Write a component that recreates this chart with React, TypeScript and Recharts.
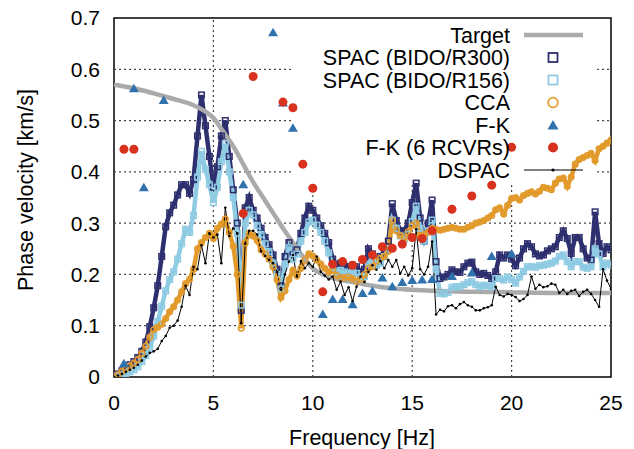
import {
  ComposedChart,
  Line,
  ReferenceArea,
  ReferenceLine,
  Scatter,
  XAxis,
  YAxis,
} from "recharts";

// sampling grid (Hz) shared by the dense curves
const FREQ = [
  0, 0.2, 0.4, 0.6, 0.8, 1, 1.2, 1.4, 1.6, 1.8,
  2, 2.2, 2.4, 2.6, 2.8, 3, 3.2, 3.4, 3.6, 3.8,
  4, 4.2, 4.4, 4.6, 4.8, 5, 5.2, 5.4, 5.6, 5.8,
  6, 6.2, 6.4, 6.6, 6.8, 7, 7.2, 7.4, 7.6, 7.8,
  8, 8.2, 8.4, 8.6, 8.8, 9, 9.2, 9.4, 9.6, 9.8,
  10, 10.2, 10.4, 10.6, 10.8, 11, 11.2, 11.4, 11.6, 11.8,
  12, 12.2, 12.4, 12.6, 12.8, 13, 13.2, 13.4, 13.6, 13.8,
  14, 14.2, 14.4, 14.6, 14.8, 15, 15.2, 15.4, 15.6, 15.8,
  16, 16.2, 16.4, 16.6, 16.8, 17, 17.2, 17.4, 17.6, 17.8,
  18, 18.2, 18.4, 18.6, 18.8, 19, 19.2, 19.4, 19.6, 19.8,
  20, 20.2, 20.4, 20.6, 20.8, 21, 21.2, 21.4, 21.6, 21.8,
  22, 22.2, 22.4, 22.6, 22.8, 23, 23.2, 23.4, 23.6, 23.8,
  24, 24.2, 24.4, 24.6, 24.8, 25,
];

const SPAC_R300 = [
  0.003, 0.006, 0.012, 0.017, 0.024, 0.03, 0.038, 0.05, 0.068, 0.098,
  0.135, 0.178, 0.235, 0.293, 0.32, 0.335, 0.355, 0.375, 0.375, 0.358,
  0.385, 0.47, 0.55, 0.49, 0.43, 0.37, 0.41, 0.47, 0.5, 0.43,
  0.365, 0.3, 0.13, 0.33, 0.35, 0.325, 0.31, 0.29, 0.272, 0.258,
  0.238, 0.21, 0.178, 0.235, 0.262, 0.24, 0.248, 0.28, 0.31, 0.333,
  0.325, 0.31, 0.295, 0.28, 0.262, 0.23, 0.218, 0.222, 0.216, 0.215,
  0.218, 0.215, 0.205, 0.21, 0.25, 0.24, 0.228, 0.235, 0.245, 0.265,
  0.338, 0.305, 0.285, 0.285, 0.3, 0.34, 0.378, 0.31, 0.265, 0.3,
  0.345, 0.225, 0.192, 0.195, 0.2, 0.209, 0.205, 0.204, 0.215, 0.222,
  0.224, 0.205, 0.2, 0.202, 0.198, 0.192, 0.205, 0.238, 0.232, 0.238,
  0.23, 0.217, 0.232, 0.25, 0.26, 0.254, 0.24, 0.236, 0.238, 0.246,
  0.25, 0.254, 0.272, 0.285, 0.27, 0.241, 0.272, 0.272, 0.25, 0.232,
  0.228, 0.322, 0.26, 0.241, 0.254, 0.248,
];

const SPAC_R156 = [
  0, 0.002, 0.004, 0.007, 0.01, 0.014, 0.02, 0.03, 0.042, 0.058,
  0.08, 0.108, 0.138, 0.168, 0.19, 0.205, 0.23, 0.26, 0.288, 0.282,
  0.315, 0.39, 0.44, 0.405, 0.375, 0.34, 0.37, 0.42, 0.455, 0.4,
  0.35, 0.28, 0.14, 0.3, 0.325, 0.316, 0.295, 0.278, 0.26, 0.245,
  0.222, 0.2, 0.172, 0.22, 0.252, 0.23, 0.24, 0.265, 0.282, 0.302,
  0.306, 0.296, 0.282, 0.265, 0.242, 0.215, 0.205, 0.208, 0.205, 0.202,
  0.205, 0.202, 0.195, 0.196, 0.22, 0.23, 0.218, 0.222, 0.235, 0.25,
  0.306, 0.29, 0.275, 0.268, 0.278, 0.303, 0.333, 0.29, 0.265, 0.285,
  0.306, 0.21, 0.163, 0.162, 0.165, 0.175, 0.176, 0.176, 0.18, 0.184,
  0.186, 0.18, 0.176, 0.179, 0.178, 0.176, 0.192, 0.192, 0.189, 0.195,
  0.19, 0.183, 0.195, 0.206, 0.215, 0.215, 0.214, 0.217, 0.218, 0.22,
  0.222, 0.226, 0.235, 0.238, 0.225, 0.215, 0.225, 0.225, 0.214, 0.212,
  0.215, 0.25, 0.24, 0.215, 0.222, 0.218,
];

const CCA = [
  0, 0.005, 0.011, 0.016, 0.022, 0.027, 0.034, 0.046, 0.06, 0.078,
  0.092, 0.097, 0.103, 0.114, 0.127, 0.137, 0.15, 0.166, 0.182, 0.19,
  0.21, 0.25, 0.262, 0.272, 0.28, 0.27, 0.29, 0.298, 0.308, 0.282,
  0.255, 0.2, 0.095, 0.262, 0.28, 0.275, 0.266, 0.248, 0.24, 0.23,
  0.215, 0.19, 0.155, 0.168, 0.19, 0.208, 0.197, 0.212, 0.228, 0.24,
  0.236, 0.228, 0.22, 0.212, 0.205, 0.208, 0.198, 0.193, 0.194, 0.195,
  0.192, 0.187, 0.19, 0.2, 0.212, 0.215, 0.226, 0.232, 0.235, 0.245,
  0.305, 0.285, 0.276, 0.27, 0.283, 0.295, 0.3, 0.276, 0.278, 0.282,
  0.29, 0.288, 0.286, 0.288, 0.29, 0.292, 0.29, 0.288, 0.288, 0.292,
  0.295, 0.3, 0.302, 0.305, 0.31, 0.315, 0.326, 0.33, 0.318, 0.335,
  0.348, 0.35, 0.345, 0.354, 0.358, 0.361, 0.357, 0.362, 0.37, 0.368,
  0.365, 0.378, 0.386, 0.388, 0.372, 0.39, 0.415, 0.424, 0.428, 0.432,
  0.436, 0.422, 0.445, 0.45, 0.456, 0.462,
];

const DSPAC = [
  0, 0.003, 0.006, 0.01, 0.014, 0.018, 0.024, 0.032, 0.04, 0.047,
  0.05, 0.055, 0.07, 0.08, 0.096, 0.1, 0.11, 0.137, 0.178, 0.16,
  0.215, 0.21, 0.257, 0.222, 0.28, 0.272, 0.278, 0.222, 0.33, 0.275,
  0.29, 0.28, 0.105, 0.26, 0.285, 0.285, 0.278, 0.245, 0.236, 0.228,
  0.222, 0.205, 0.17, 0.2, 0.225, 0.238, 0.196, 0.226, 0.212, 0.222,
  0.215, 0.235, 0.205, 0.198, 0.19, 0.196, 0.17, 0.186, 0.16, 0.175,
  0.148, 0.176, 0.196, 0.185, 0.205, 0.218, 0.209, 0.226, 0.212, 0.228,
  0.215, 0.228, 0.202, 0.215, 0.198, 0.212, 0.288, 0.21, 0.2, 0.215,
  0.264, 0.122, 0.131, 0.128, 0.138, 0.14, 0.134, 0.142, 0.146, 0.14,
  0.137, 0.13, 0.13, 0.134, 0.136, 0.14, 0.176, 0.16, 0.157, 0.162,
  0.16, 0.156, 0.148, 0.152, 0.16, 0.196, 0.172, 0.18, 0.175, 0.177,
  0.182, 0.18, 0.164, 0.17, 0.162, 0.168, 0.17, 0.158, 0.166, 0.17,
  0.162, 0.15, 0.137, 0.21, 0.188, 0.172,
];

const TARGET_F = [0, 1, 2, 3, 4, 4.5, 5, 5.5, 6, 6.5, 7, 7.5, 8, 8.5, 9, 9.5, 10, 10.5, 11, 12, 13, 14, 15, 16, 18, 20, 22, 25];
const TARGET_V = [0.57, 0.563, 0.553, 0.542, 0.53, 0.52, 0.505, 0.478, 0.45, 0.415, 0.38, 0.35, 0.32, 0.29, 0.262, 0.235, 0.212, 0.2, 0.193, 0.185, 0.178, 0.173, 0.17, 0.168, 0.166, 0.165, 0.164, 0.164];

const FK_F = [0.5, 1, 1.5, 2.5, 6.5, 8, 8.5, 9, 10.5, 11, 11.5, 12, 12.5, 13, 13.5, 14, 14.5, 15, 15.5, 16, 17, 18, 19, 20];
const FK_V = [0.027, 0.563, 0.37, 0.54, 0.376, 0.672, 0.535, 0.486, 0.123, 0.152, 0.152, 0.142, 0.164, 0.168, 0.194, 0.177, 0.185, 0.189, 0.19, 0.191, 0.197, 0.204, 0.236, 0.241];

const FK6_F = [0.5, 1, 6.5, 7, 8.5, 9, 9.5, 10, 10.5, 11, 11.5, 12, 12.5, 13, 13.5, 14, 14.5, 15, 15.5, 16, 17, 18, 19, 20];
const FK6_V = [0.444, 0.444, 0.319, 0.586, 0.536, 0.525, 0.415, 0.368, 0.166, 0.22, 0.225, 0.218, 0.229, 0.238, 0.254, 0.251, 0.259, 0.272, 0.27, 0.285, 0.327, 0.353, 0.374, 0.448];

const X_TICKS = [0, 5, 10, 15, 20, 25];
const Y_TICKS = [0, 0.1, 0.2, 0.3, 0.4, 0.5, 0.6, 0.7];

// key box (in data units) where the grid is left out
const KEY_X = [9, 24.3];
const KEY_Y = 0.378;

const C_R300 = "#2e2f6e";
const C_R156 = "#8fcbe3";
const C_CCA = "#e29a2c";
const C_FK = "#2f72ad";
const C_FK6 = "#d8321e";
const C_TARGET = "#aaaaaa";
const C_GRID = "#444";
const FONT = "'Liberation Sans', Arial, Helvetica, sans-serif";

const rows = (fs: number[], vs: number[]) => fs.map((f, i) => ({ f, v: vs[i] }));

// grid pieces, skipping the key box
const gridSegments = () => {
  const segs: { x: number; y: number }[][] = [];
  X_TICKS.slice(1, -1).forEach((t) => {
    if (t > KEY_X[0] && t < KEY_X[1]) segs.push([{ x: t, y: 0 }, { x: t, y: KEY_Y }]);
    else segs.push([{ x: t, y: 0 }, { x: t, y: 0.7 }]);
  });
  Y_TICKS.slice(1, -1).forEach((t) => {
    if (t > KEY_Y) {
      segs.push([{ x: 0, y: t }, { x: KEY_X[0], y: t }]);
      segs.push([{ x: KEY_X[1], y: t }, { x: 25, y: t }]);
    } else segs.push([{ x: 0, y: t }, { x: 25, y: t }]);
  });
  return segs;
};

const squareDot = (color: string) => (p: any) => {
  if (p.cx == null || p.cy == null) return <g key={p.index} />;
  return (
    <rect key={p.index} x={p.cx - 2.8} y={p.cy - 2.8} width={5.6} height={5.6}
      fill="none" stroke={color} strokeWidth={1.5} />
  );
};

const circleDot = (color: string) => (p: any) => {
  if (p.cx == null || p.cy == null) return <g key={p.index} />;
  return <circle key={p.index} cx={p.cx} cy={p.cy} r={2.8} fill="none" stroke={color} strokeWidth={1.5} />;
};

const tinyDot = (p: any) => {
  if (p.cx == null || p.cy == null) return <g key={p.index} />;
  return <circle key={p.index} cx={p.cx} cy={p.cy} r={1.3} fill="#000" />;
};

const triangle = (p: any) => (
  <polygon
    points={`${p.cx},${p.cy - 4.5} ${p.cx + 5},${p.cy + 4} ${p.cx - 5},${p.cy + 4}`}
    fill={C_FK}
  />
);

const redDot = (p: any) => <circle cx={p.cx} cy={p.cy} r={4.5} fill={C_FK6} />;

const LEGEND = [
  { label: "Target", kind: "target" },
  { label: "SPAC (BIDO/R300)", kind: "r300" },
  { label: "SPAC (BIDO/R156)", kind: "r156" },
  { label: "CCA", kind: "cca" },
  { label: "F-K", kind: "fk" },
  { label: "F-K (6 RCVRs)", kind: "fk6" },
  { label: "DSPAC", kind: "dspac" },
];

function Sample({ kind, y }: { kind: string; y: number }) {
  const x = 553;
  switch (kind) {
    case "target":
      return <line x1={524} x2={583} y1={y} y2={y} stroke={C_TARGET} strokeWidth={4.5} />;
    case "r300":
      return <rect x={x - 4.5} y={y - 4.5} width={9} height={9} fill="none" stroke={C_R300} strokeWidth={1.8} />;
    case "r156":
      return <rect x={x - 4.5} y={y - 4.5} width={9} height={9} fill="none" stroke={C_R156} strokeWidth={1.8} />;
    case "cca":
      return <circle cx={x} cy={y} r={4.8} fill="none" stroke={C_CCA} strokeWidth={1.8} />;
    case "fk":
      return <polygon points={`${x},${y - 5} ${x + 5.5},${y + 4.5} ${x - 5.5},${y + 4.5}`} fill={C_FK} />;
    case "fk6":
      return <circle cx={x} cy={y} r={5} fill={C_FK6} />;
    default:
      return (
        <g>
          <line x1={524} x2={583} y1={y} y2={y} stroke="#000" strokeWidth={1.2} />
          <circle cx={x} cy={y} r={1.6} fill="#000" />
        </g>
      );
  }
}

export default function App() {
  const tick = { fill: "#000", fontSize: 21, fontFamily: FONT };
  return (
    <div style={{ position: "absolute", left: 0, top: 0, width: 634, height: 449, background: "#fff" }}>
      <ComposedChart width={634} height={449} margin={{ top: 18, right: 23, left: 54, bottom: 42 }}>
        <XAxis
          type="number"
          dataKey="f"
          domain={[0, 25]}
          ticks={X_TICKS}
          allowDataOverflow
          height={30}
          tick={tick}
          tickLine={false}
          tickSize={6}
          tickMargin={12}
          axisLine={false}
        />
        <YAxis
          type="number"
          dataKey="v"
          domain={[0, 0.7]}
          ticks={Y_TICKS}
          allowDataOverflow
          width={60}
          tick={tick}
          tickLine={false}
          tickSize={6}
          tickMargin={8}
          axisLine={false}
          tickFormatter={(v: number) => (v === 0 ? "0" : String(v))}
        />
        {gridSegments().map((seg, i) => (
          <ReferenceLine key={`g${i}`} segment={seg} stroke={C_GRID} strokeDasharray="2 3" strokeWidth={1.2} />
        ))}
        <Line data={rows(FREQ, SPAC_R300)} dataKey="v" stroke={C_R300} strokeWidth={4.5} dot={squareDot(C_R300)} isAnimationActive={false} />
        <Line data={rows(FREQ, SPAC_R156)} dataKey="v" stroke={C_R156} strokeWidth={4.5} dot={squareDot(C_R156)} isAnimationActive={false} />
        <Line data={rows(FREQ, CCA)} dataKey="v" stroke={C_CCA} strokeWidth={4.5} dot={circleDot(C_CCA)} isAnimationActive={false} />
        <Line data={rows(TARGET_F, TARGET_V)} dataKey="v" type="monotone" stroke={C_TARGET} strokeWidth={4.5} dot={false} isAnimationActive={false} />
        <Scatter data={rows(FK_F, FK_V)} dataKey="v" shape={triangle} isAnimationActive={false} />
        <Scatter data={rows(FK6_F, FK6_V)} dataKey="v" shape={redDot} isAnimationActive={false} />
        <Line data={rows(FREQ, DSPAC)} dataKey="v" stroke="#000" strokeWidth={1} dot={tinyDot} isAnimationActive={false} />
        <ReferenceArea x1={0} x2={25} y1={0} y2={0.7} fill="none" stroke="#000" strokeWidth={1.5} />
      </ComposedChart>
      <svg width={634} height={449} style={{ position: "absolute", left: 0, top: 0, pointerEvents: "none" }}>
        <text x={25} y={190} transform="rotate(-90 25 190)" textAnchor="middle" dy="0.35em"
          fontSize={21.5} fontFamily={FONT} fill="#000">
          Phase velocity [km/s]
        </text>
        <text x={362} y={437} textAnchor="middle" dy="0.35em" fontSize={21.5} fontFamily={FONT} fill="#000">
          Frequency [Hz]
        </text>
        {LEGEND.map((item, i) => {
          const y = 35 + i * 22.5;
          return (
            <g key={item.kind}>
              <text x={510} y={y} textAnchor="end" dy="0.35em" fontSize={21.5} fontFamily={FONT} fill="#000">
                {item.label}
              </text>
              <Sample kind={item.kind} y={y} />
            </g>
          );
        })}
      </svg>
    </div>
  );
}
